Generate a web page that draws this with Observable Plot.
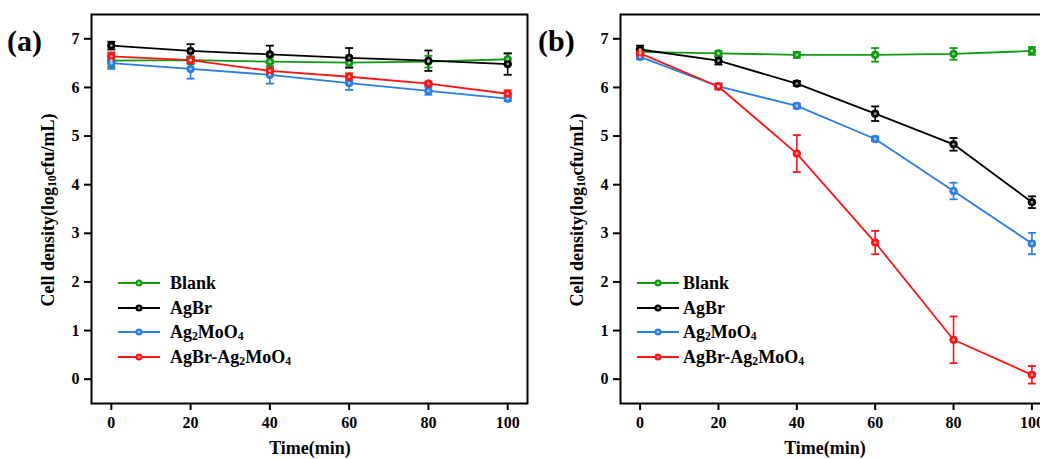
<!DOCTYPE html>
<html>
<head>
<meta charset="utf-8">
<script src="https://cdn.jsdelivr.net/npm/d3@7"></script>
<script src="https://cdn.jsdelivr.net/npm/@observablehq/plot@0.6"></script>
<style>
  html, body { margin: 0; padding: 0; background: #fff; }
  #wrap { position: relative; width: 1040px; height: 459px; overflow: hidden; font-family: "Liberation Serif", "Times New Roman", serif; font-weight: bold; color: #000; }
  .panel { position: absolute; top: 0; }
  .panel svg { max-width: none !important; }
  .lbl { position: absolute; white-space: nowrap; font-weight: bold; }
  .ylab { font-size: 18px; transform: translate(-50%, -50%) rotate(-90deg); }
  .xlab { font-size: 18px; transform: translateX(-50%); }
  .tag { font-size: 30px; }
  .leg { font-size: 18px; transform: translateY(-50%); }
  sub { font-size: 0.65em; vertical-align: -0.25em; line-height: 0; }
</style>
</head>
<body>
<div id="wrap"></div>
<script>
// ---- data ----
const time = [0, 20, 40, 60, 80, 100];
const seriesNames = ["Blank", "AgBr", "Ag2MoO4", "AgBr-Ag2MoO4"];
const seriesLabels = ["Blank", "AgBr", "Ag<sub>2</sub>MoO<sub>4</sub>", "AgBr-Ag<sub>2</sub>MoO<sub>4</sub>"];
const seriesColors = ["#129a12", "#000000", "#2a7de1", "#ff1414"];
const yTicks = [0, 1, 2, 3, 4, 5, 6, 7];
const xTicks = [0, 20, 40, 60, 80, 100];

// panel (a)
const blankA = [6.55, 6.56, 6.53, 6.51, 6.53, 6.58];
const blankAErr = [0.13, 0.08, 0.10, 0.10, 0.12, 0.12];
const agbrA = [6.86, 6.75, 6.68, 6.61, 6.55, 6.48];
const agbrAErr = [0.08, 0.14, 0.18, 0.20, 0.21, 0.22];
const ag2A = [6.50, 6.38, 6.26, 6.09, 5.93, 5.77];
const ag2AErr = [0.12, 0.20, 0.18, 0.14, 0.08, 0.05];
const compA = [6.64, 6.56, 6.34, 6.22, 6.08, 5.87];
const compAErr = [0.08, 0.06, 0.05, 0.07, 0.04, 0.07];

// panel (b)
const blankB = [6.73, 6.70, 6.67, 6.67, 6.69, 6.75];
const blankBErr = [0.05, 0.05, 0.06, 0.14, 0.12, 0.08];
const agbrB = [6.78, 6.55, 6.08, 5.46, 4.83, 3.64];
const agbrBErr = [0.08, 0.08, 0.05, 0.15, 0.13, 0.12];
const ag2B = [6.63, 6.02, 5.62, 4.94, 3.87, 2.79];
const ag2BErr = [0.05, 0.06, 0.05, 0.05, 0.17, 0.22];
const compB = [6.70, 6.02, 4.64, 2.81, 0.81, 0.09];
const compBErr = [0.10, 0.06, 0.38, 0.24, 0.48, 0.18];

function rows(vals, errs) {
  const out = [];
  vals.forEach((v, si) => time.forEach((t, i) => out.push({t, v: v[i], e: errs[si][i], s: seriesNames[si]})));
  return out;
}
const dataA = rows([blankA, agbrA, ag2A, compA], [blankAErr, agbrAErr, ag2AErr, compAErr]);
const dataB = rows([blankB, agbrB, ag2B, compB], [blankBErr, agbrBErr, ag2BErr, compBErr]);

const capSymbol = {
  draw(context, size) {
    const r = Math.sqrt(size / Math.PI);
    context.moveTo(-r, 0);
    context.lineTo(r, 0);
  }
};

function makePanel(data, width, marginLeft, marginRight) {
  return Plot.plot({
    width, height: 459,
    marginLeft, marginRight, marginTop: 14, marginBottom: 56,
    x: {domain: [-5, 105], ticks: xTicks, tickFormat: d => d},
    y: {domain: [-0.5, 7.5], ticks: yTicks, tickFormat: d => d},
    color: {domain: seriesNames, range: seriesColors},
    style: {fontFamily: "Liberation Serif, Times New Roman, serif", fontSize: "16px", fontWeight: "bold", background: "transparent", overflow: "visible", maxWidth: "none"},
    marks: [
      Plot.axisX({ticks: xTicks, tickSize: 7, tickPadding: 6, strokeWidth: 2, label: null, fontWeight: "bold"}),
      Plot.axisY({ticks: yTicks, tickSize: 7, tickPadding: 5, strokeWidth: 2, label: null, fontWeight: "bold"}),
      Plot.ruleX(data, {x: "t", y1: d => d.v - d.e, y2: d => d.v + d.e, stroke: "s", strokeWidth: 1.6}),
      Plot.dot(data, {x: "t", y: d => d.v + d.e, symbol: capSymbol, r: 4, stroke: "s", fill: "none", strokeWidth: 1.8}),
      Plot.dot(data, {x: "t", y: d => d.v - d.e, symbol: capSymbol, r: 4, stroke: "s", fill: "none", strokeWidth: 1.8}),
      Plot.line(data, {x: "t", y: "v", z: "s", stroke: "s", strokeWidth: 1.8}),
      Plot.dot(data, {x: "t", y: "v", r: 3.8, fill: "s", stroke: "s", strokeWidth: 1}),
      Plot.dot(data, {x: "t", y: "v", r: 1.4, fill: "white", fillOpacity: 0.6, stroke: "none"}),
      Plot.frame({stroke: "black", strokeWidth: 2})
    ]
  });
}

const wrap = document.getElementById("wrap");
function addPanel(svg, left, width) {
  const d = document.createElement("div");
  d.className = "panel";
  d.style.left = left + "px";
  d.style.width = width + "px";
  svg.style.maxWidth = "none";
  d.appendChild(svg);
  wrap.appendChild(d);
}
addPanel(makePanel(dataA, 540, 91, 13), 0, 540);
addPanel(makePanel(dataB, 520, 80, 9), 540, 520);

function addLabel(cls, html, left, top) {
  const d = document.createElement("div");
  d.className = "lbl " + cls;
  d.innerHTML = html;
  d.style.left = left + "px";
  d.style.top = top + "px";
  wrap.appendChild(d);
}
const yLabel = "Cell density(log<sub>10</sub>cfu/mL)";
const xLabel = "Time(min)";
addLabel("tag", "(a)", 7, 24);
addLabel("tag", "(b)", 538, 24);
addLabel("ylab", yLabel, 48, 210);
addLabel("ylab", yLabel, 577, 210);
addLabel("xlab", xLabel, 310, 438);
addLabel("xlab", xLabel, 825, 438);

function addLegend(lineLeft, textLeft, rowYs) {
  seriesNames.forEach((s, i) => {
    const y = rowYs[i];
    const ns = "http://www.w3.org/2000/svg";
    const svg = document.createElementNS(ns, "svg");
    svg.setAttribute("width", 46);
    svg.setAttribute("height", 12);
    svg.style.position = "absolute";
    svg.style.left = lineLeft + "px";
    svg.style.top = (y - 6) + "px";
    const ln = document.createElementNS(ns, "line");
    ln.setAttribute("x1", 0); ln.setAttribute("x2", 42);
    ln.setAttribute("y1", 6); ln.setAttribute("y2", 6);
    ln.setAttribute("stroke", seriesColors[i]); ln.setAttribute("stroke-width", 1.8);
    svg.appendChild(ln);
    const c = document.createElementNS(ns, "circle");
    c.setAttribute("cx", 21); c.setAttribute("cy", 6); c.setAttribute("r", 3.6);
    c.setAttribute("fill", seriesColors[i]);
    svg.appendChild(c);
    const h = document.createElementNS(ns, "circle");
    h.setAttribute("cx", 21); h.setAttribute("cy", 6); h.setAttribute("r", 1.3);
    h.setAttribute("fill", "white"); h.setAttribute("fill-opacity", 0.6);
    svg.appendChild(h);
    wrap.appendChild(svg);
    addLabel("leg", seriesLabels[i], textLeft, y);
  });
}
addLegend(118, 170, [283, 308, 332, 357]);
addLegend(637, 683, [283, 308, 332, 357]);
</script>
</body>
</html>
